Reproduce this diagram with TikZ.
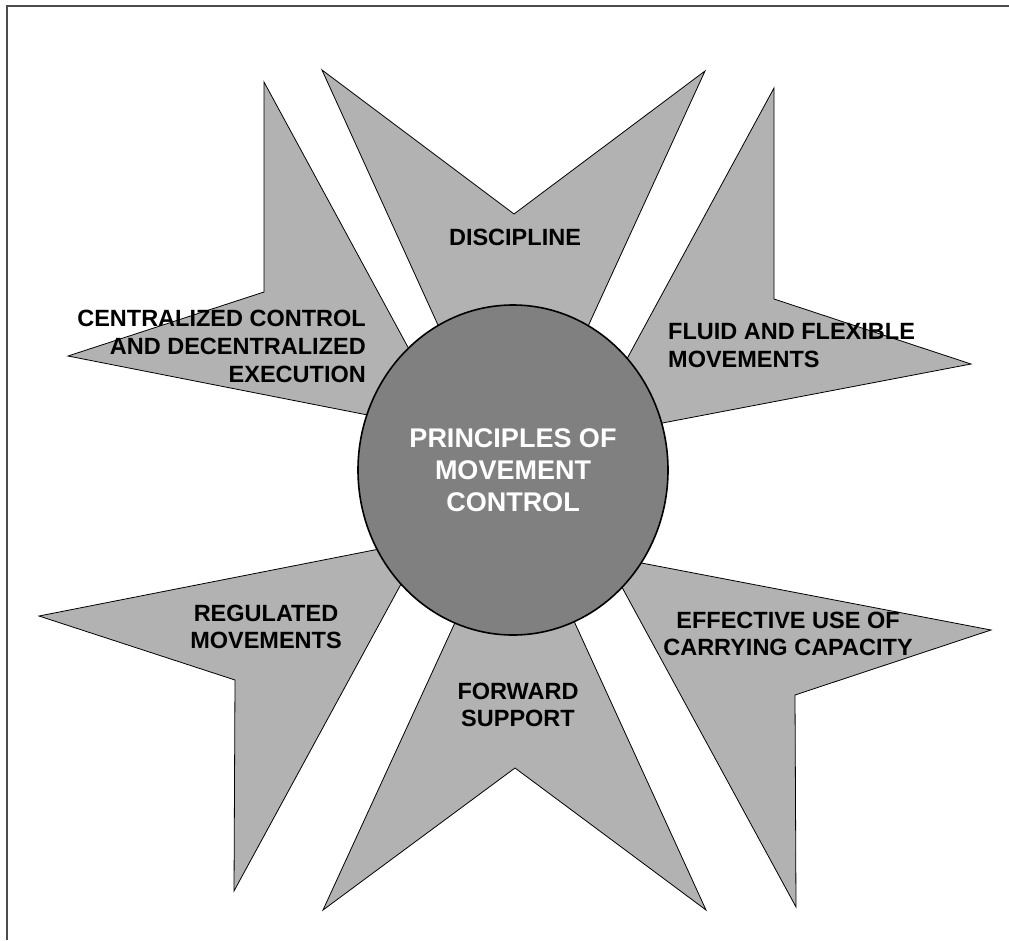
\documentclass[tikz,border=0pt]{standalone}
\usepackage{fontspec}
\setmainfont{Liberation Sans}
\usetikzlibrary{shapes.geometric}
\definecolor{armgray}{gray}{0.70}
\definecolor{hubgray}{gray}{0.50}

\begin{document}
\begin{tikzpicture}[
    x=1pt,y=-1pt,
    arm/.style={draw=black,fill=armgray,line width=0.8pt,line join=miter},
    hub/.style={ellipse,draw=black,fill=hubgray,line width=1.6pt,inner sep=0pt,
        minimum width=310pt,minimum height=330pt,text=white,align=center,
        font=\bfseries\fontsize{27}{31.7}\selectfont},
    lbl/.style={inner sep=0pt,font=\bfseries\fontsize{23.5}{27.6}\selectfont},
    frame/.style={draw=black!70,line width=1.2pt},
]
    \useasboundingbox (0,0) rectangle (1009,940);
    \draw[frame] (7,940) -- (7,6) -- (1009,6);

    % arms: tip, notch, tip, hidden apex under the hub
    \draw[arm] (322,70) -- (514,214) -- (705,71) -- (513,490) -- cycle;
    \draw[arm] (264,82) -- (264,292) -- (68,356) -- (454,432) -- cycle;
    \draw[arm] (774,88) -- (774,299) -- (971,364) -- (584,438) -- cycle;
    \draw[arm] (39,616) -- (235,680) -- (234,891) -- (425,540) -- cycle;
    \draw[arm] (991,630) -- (795,695) -- (796,907) -- (605,556) -- cycle;
    \draw[arm] (323,910) -- (515,768) -- (706,910) -- (515,492) -- cycle;

    \node[hub] (hub) at (513,470) {PRINCIPLES OF\\MOVEMENT\\CONTROL};

    \node[lbl] (discipline) at (515,237) {DISCIPLINE};
    \node[lbl,align=right,anchor=east] (central) at (366,346.5)
        {CENTRALIZED CONTROL\\AND DECENTRALIZED\\EXECUTION};
    \node[lbl,align=left,anchor=west] (fluid) at (668,345.5)
        {FLUID AND FLEXIBLE\\MOVEMENTS};
    \node[lbl,align=center] (regulated) at (266,627) {REGULATED\\MOVEMENTS};
    \node[lbl,align=center] (capacity) at (788,634)
        {EFFECTIVE USE OF\\CARRYING CAPACITY};
    \node[lbl,align=center] (forward) at (518,705) {FORWARD\\SUPPORT};
\end{tikzpicture}
\end{document}
